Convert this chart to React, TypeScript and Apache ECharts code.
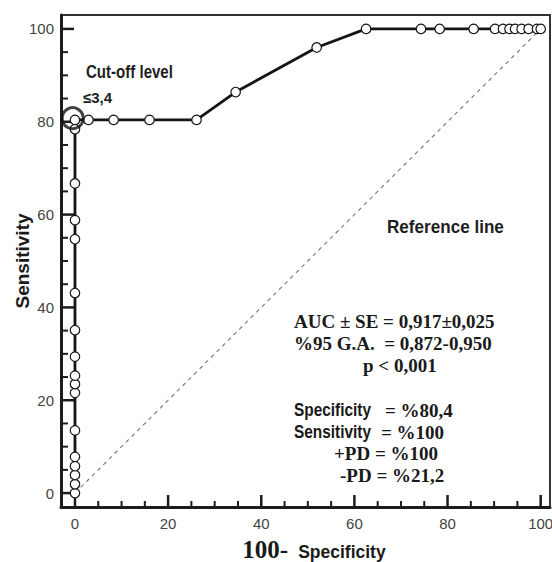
import React, { useEffect, useRef } from 'react';
import * as echarts from 'echarts';

// ---- data ----
const xTickValues = [0, 20, 40, 60, 80, 100];
const yTickValues = [0, 20, 40, 60, 80, 100];
const minorTickValues = [5, 10, 15, 25, 30, 35, 45, 50, 55, 65, 70, 75, 85, 90, 95];

// ROC curve: x = 100 - specificity, y = sensitivity
const rocX = [0, 0, 0, 0, 0, 0, 0, 0, 0, 0, 0, 0, 0, 0, 0, 0, 0, 2.9, 8.3, 16.0, 26.1, 34.5, 51.9, 62.5, 74.3, 78.3, 85.6, 90.2, 91.9, 93.3, 94.5, 95.9, 97.4, 99.2, 100];
const rocY = [0, 1.9, 3.9, 5.8, 7.8, 13.5, 21.6, 23.5, 25.3, 29.4, 35.1, 43.1, 54.7, 58.8, 66.7, 78.4, 80.4, 80.4, 80.4, 80.4, 80.4, 86.4, 96.0, 100, 100, 100, 100, 100, 100, 100, 100, 100, 100, 100, 100];

const referenceX = [0, 100];
const referenceY = [0, 100];

const cutoffX = [0];
const cutoffY = [80.4];

const statLines = ['AUC ± SE = 0,917±0,025', '%95 G.A.  = 0,872-0,950', 'p < 0,001'];
const perfLabels = ['Specificity', 'Sensitivity'];
const perfValues = ['= %80,4', '= %100'];
const pdLines = ['+PD = %100', '-PD = %21,2'];

const X_MIN = -3;
const X_MAX = 102;
const Y_MIN = -3;
const Y_MAX = 103;

const SANS = "'Liberation Sans', Arial, sans-serif";
const SERIF = "'Liberation Serif', 'Times New Roman', serif";

export default function App() {
  const ref = useRef<HTMLDivElement>(null);

  useEffect(() => {
    if (!ref.current) return;
    const chart = echarts.init(ref.current, undefined, { renderer: 'svg' });

    const axisColor = '#1c1c1c';
    const labelColor = '#444';

    const tickSeries = (values: number[], axis: 'x' | 'y', len: number, width: number) => ({
      type: 'custom',
      silent: true,
      z: 1,
      clip: false,
      data: values.map((v) => (axis === 'x' ? [v, Y_MIN] : [X_MIN, v])),
      renderItem: (_params: any, api: any) => {
        const p = api.coord([api.value(0), api.value(1)]);
        const shape = axis === 'x'
          ? { x1: p[0], y1: p[1], x2: p[0], y2: p[1] - len }
          : { x1: p[0], y1: p[1], x2: p[0] + len, y2: p[1] };
        return { type: 'line', shape, style: { stroke: axisColor, lineWidth: width } };
      },
    });

    const option: any = {
      animation: false,
      backgroundColor: '#fff',
      grid: {
        left: 61, right: 2, top: 15, bottom: 55,
        outerBoundsMode: 'none',
        containLabel: false,
        show: true, borderColor: '#333', borderWidth: 2, backgroundColor: 'transparent',
      },
      xAxis: {
        type: 'value', min: X_MIN, max: X_MAX, position: 'bottom',
        axisLine: { show: true, onZero: false, lineStyle: { color: axisColor, width: 3 } },
        axisTick: { show: false },
        axisLabel: { show: true, customValues: xTickValues, margin: 9, fontSize: 15, color: labelColor, fontFamily: SANS },
        splitLine: { show: false },
        name: '{a|100-}   {b|Specificity}',
        nameLocation: 'middle',
        nameGap: 30,
        nameTextStyle: {
          padding: [0, 0, 0, 17],
          rich: {
            a: { fontFamily: SERIF, fontWeight: 'bold', fontSize: 25, color: '#1a1a1a' },
            b: { fontFamily: SANS, fontWeight: 'bold', fontSize: 17.5, color: '#1a1a1a', padding: [4, 0, 0, 0] },
          },
        },
      },
      yAxis: {
        type: 'value', min: Y_MIN, max: Y_MAX, position: 'left',
        axisLine: { show: true, onZero: false, lineStyle: { color: axisColor, width: 3 } },
        axisTick: { show: false },
        axisLabel: { show: true, customValues: yTickValues, margin: 7, fontSize: 15, color: labelColor, fontFamily: SANS },
        splitLine: { show: false },
        name: 'Sensitivity',
        nameLocation: 'middle',
        nameMoveOverlap: false,
        nameGap: 29,
        nameTextStyle: { fontFamily: SANS, fontWeight: 'bold', fontSize: 19, color: '#1a1a1a' },
      },
      series: [
        tickSeries(xTickValues, 'x', 12, 2.5),
        tickSeries(minorTickValues, 'x', 6, 2),
        tickSeries(yTickValues, 'y', 13, 2.5),
        tickSeries(minorTickValues, 'y', 7, 2),
        {
          name: 'Reference line',
          type: 'line',
          data: referenceX.map((x, i) => [x, referenceY[i]]),
          showSymbol: false,
          symbol: 'none',
          lineStyle: { color: '#808080', width: 1.2, type: [4, 4] },
          z: 2,
        },
        {
          name: 'ROC',
          type: 'line',
          data: rocX.map((x, i) => [x, rocY[i]]),
          symbol: 'circle',
          symbolSize: 9.5,
          showAllSymbol: true,
          lineStyle: { color: '#151515', width: 2.8 },
          itemStyle: { color: '#ffffff', borderColor: '#151515', borderWidth: 1.2 },
          z: 3,
        },
        {
          name: 'Cut-off',
          type: 'scatter',
          data: cutoffX.map((x, i) => [x, cutoffY[i]]),
          symbol: 'circle',
          symbolSize: 21,
          symbolOffset: [-2.3, -1.7],
          itemStyle: { color: 'rgba(0,0,0,0)', borderColor: '#111', borderWidth: 3 },
          z: 4,
        },
      ],
      graphic: [
        { type: 'text', x: 86, y: 72, scaleX: 0.86, style: { text: 'Cut-off level', font: `bold 17.5px ${SANS}`, fill: '#1e1e1e', verticalAlign: 'middle', align: 'left' } },
        { type: 'text', x: 83, y: 97, style: { text: '≤3,4', font: `bold 15px ${SANS}`, fill: '#1e1e1e', verticalAlign: 'middle', align: 'left' } },
        { type: 'text', x: 387, y: 227, scaleX: 0.95, style: { text: 'Reference line', font: `bold 18px ${SANS}`, fill: '#1e1e1e', verticalAlign: 'middle', align: 'left' } },
        { type: 'text', x: 294, y: 321, style: { text: statLines[0], font: `bold 19px ${SERIF}`, fill: '#1a1a1a', verticalAlign: 'middle', align: 'left' } },
        { type: 'text', x: 294, y: 343, style: { text: statLines[1], font: `bold 19px ${SERIF}`, fill: '#1a1a1a', verticalAlign: 'middle', align: 'left' } },
        { type: 'text', x: 363, y: 365, style: { text: statLines[2], font: `bold 19px ${SERIF}`, fill: '#1a1a1a', verticalAlign: 'middle', align: 'left' } },
        { type: 'text', x: 294, y: 410, scaleX: 0.88, style: { text: perfLabels[0], font: `bold 17.5px ${SANS}`, fill: '#1a1a1a', verticalAlign: 'middle', align: 'left' } },
        { type: 'text', x: 385, y: 410, style: { text: perfValues[0], font: `bold 19px ${SERIF}`, fill: '#1a1a1a', verticalAlign: 'middle', align: 'left' } },
        { type: 'text', x: 294, y: 432, scaleX: 0.88, style: { text: perfLabels[1], font: `bold 17.5px ${SANS}`, fill: '#1a1a1a', verticalAlign: 'middle', align: 'left' } },
        { type: 'text', x: 381, y: 432, style: { text: perfValues[1], font: `bold 19px ${SERIF}`, fill: '#1a1a1a', verticalAlign: 'middle', align: 'left' } },
        { type: 'text', x: 334, y: 453, style: { text: pdLines[0], font: `bold 19px ${SERIF}`, fill: '#1a1a1a', verticalAlign: 'middle', align: 'left' } },
        { type: 'text', x: 340, y: 475, style: { text: pdLines[1], font: `bold 19px ${SERIF}`, fill: '#1a1a1a', verticalAlign: 'middle', align: 'left' } },
      ],
    };

    chart.setOption(option);
    return () => chart.dispose();
  }, []);

  return <div ref={ref} style={{ width: 552, height: 562, position: 'absolute', left: 0, top: 0, background: '#fff' }} />;
}
